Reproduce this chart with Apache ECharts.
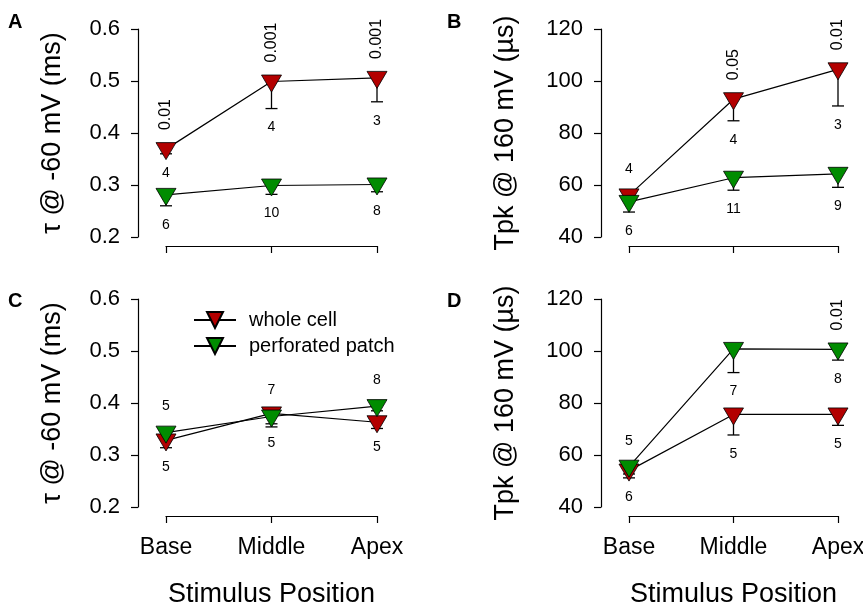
<!DOCTYPE html>
<html><head><meta charset="utf-8">
<script src="https://cdn.jsdelivr.net/npm/echarts@6/dist/echarts.min.js"></script>
<style>html,body{margin:0;padding:0;background:#fff}#c{width:863px;height:603px}</style>
</head><body><div id="c"></div>
<script>
// ---------- data ----------
const categories = ['Base', 'Middle', 'Apex'];
const seriesNames = ['whole cell', 'perforated patch'];

// Panel A: tau @ -60 mV (ms)
const aWholeMean = [0.369, 0.499, 0.506];
const aWholeLow  = [0.360, 0.447, 0.460];
const aPerfMean  = [0.281, 0.299, 0.301];
const aPerfLow   = [0.260, 0.282, 0.287];
const aWholeN    = ['4', '4', '3'];
const aPerfN     = ['6', '10', '8'];
const aPval      = ['0.01', '0.001', '0.001'];

// Panel B: Tpk @ 160 mV (µs)
const bWholeMean = [56.0, 93.0, 104.5];
const bWholeLow  = [54.0, 84.7, 90.4];
const bPerfMean  = [53.5, 62.8, 64.3];
const bPerfLow   = [49.6, 58.0, 59.1];
const bWholeN    = ['4', '4', '3'];
const bPerfN     = ['6', '11', '9'];
const bPval      = ['', '0.05', '0.01'];

// Panel C: tau @ -60 mV (ms)
const cWholeMean = [0.328, 0.380, 0.363];
const cWholeLow  = [0.314, 0.360, 0.351];
const cPerfMean  = [0.343, 0.374, 0.394];
const cPerfLow   = [0.335, 0.354, 0.385];
const cWholeN    = ['5', '5', '5'];
const cPerfN     = ['5', '7', '8'];
const cPval      = ['', '', ''];

// Panel D: Tpk @ 160 mV (µs)
const dWholeMean = [54.0, 75.6, 75.6];
const dWholeLow  = [51.2, 67.7, 71.4];
const dPerfMean  = [55.5, 100.8, 100.6];
const dPerfLow   = [52.7, 91.7, 96.5];
const dWholeN    = ['6', '5', '5'];
const dPerfN     = ['5', '7', '8'];
const dPval      = ['', '', '0.01'];

// label placement: 'b' = below error bar, 'a' = above marker
const aWholeSide = ['b', 'b', 'b'];
const aPerfSide  = ['b', 'b', 'b'];
const bWholeSide = ['a', 'b', 'b'];
const bPerfSide  = ['b', 'b', 'b'];
const cWholeSide = ['b', 'b', 'b'];
const cPerfSide  = ['a', 'a', 'a'];
const dWholeSide = ['b', 'b', 'b'];
const dPerfSide  = ['a', 'b', 'b'];

// ---------- styles ----------
const RED = '#b30000';
const GREEN = '#008c00';
const FONT = "'Liberation Sans', Arial, sans-serif";
const TRI = 'path://M0,0 L20,0 L10,17 Z';

const panels = [
  { key: 'A', grid: { left: 166, top: 29, width: 211, height: 208 }, y: [0.2, 0.6, 0.1, 1],
    title: 'τ @ -60 mV (ms)', nameGap: 72, bottom: false,
    whole: [aWholeMean, aWholeLow, aWholeN, aWholeSide], perf: [aPerfMean, aPerfLow, aPerfN, aPerfSide],
    pval: aPval, pOn: 'whole', lx: 8, ly: 12 },
  { key: 'B', grid: { left: 629, top: 29, width: 209, height: 208 }, y: [40, 120, 20, 0],
    title: 'Tpk @ 160 mV (µs)', nameGap: 82, bottom: false,
    whole: [bWholeMean, bWholeLow, bWholeN, bWholeSide], perf: [bPerfMean, bPerfLow, bPerfN, bPerfSide],
    pval: bPval, pOn: 'whole', lx: 447, ly: 12 },
  { key: 'C', grid: { left: 166, top: 299, width: 211, height: 208 }, y: [0.2, 0.6, 0.1, 1],
    title: 'τ @ -60 mV (ms)', nameGap: 72, bottom: true,
    whole: [cWholeMean, cWholeLow, cWholeN, cWholeSide], perf: [cPerfMean, cPerfLow, cPerfN, cPerfSide],
    pval: cPval, pOn: 'perf', lx: 8, ly: 291 },
  { key: 'D', grid: { left: 629, top: 299, width: 209, height: 208 }, y: [40, 120, 20, 0],
    title: 'Tpk @ 160 mV (µs)', nameGap: 82, bottom: true,
    whole: [dWholeMean, dWholeLow, dWholeN, dWholeSide], perf: [dPerfMean, dPerfLow, dPerfN, dPerfSide],
    pval: dPval, pOn: 'perf', lx: 447, ly: 291 }
];

const grids = [], xAxes = [], yAxes = [], series = [], graphics = [];

function errRender(params, api) {
  const idx = api.value(0), m = api.value(1), lo = api.value(2);
  const p1 = api.coord([idx, m]), p2 = api.coord([idx, lo]);
  return { type: 'group', children: [
    { type: 'line', shape: { x1: p1[0], y1: p1[1], x2: p2[0], y2: p2[1] }, style: { stroke: '#000', lineWidth: 1.3 } },
    { type: 'line', shape: { x1: p2[0] - 6, y1: p2[1], x2: p2[0] + 6, y2: p2[1] }, style: { stroke: '#000', lineWidth: 1.3 } }
  ]};
}

panels.forEach((p, i) => {
  grids.push(Object.assign({ containLabel: false, outerBoundsMode: 'none' }, p.grid));
  xAxes.push({
    type: 'category', gridIndex: i, data: categories, boundaryGap: false, offset: 9,
    axisLine: { show: true, lineStyle: { color: '#000', width: 1.2 } },
    axisTick: { show: true, length: 7, alignWithLabel: true, lineStyle: { color: '#000', width: 1.2 } },
    axisLabel: { show: p.bottom, margin: 20, fontSize: 23, color: '#000', fontFamily: FONT },
    splitLine: { show: false },
    name: p.bottom ? 'Stimulus Position' : '', nameLocation: 'middle', nameGap: 65,
    nameTextStyle: { fontSize: 27, color: '#000', fontFamily: FONT }
  });
  yAxes.push({
    type: 'value', gridIndex: i, min: p.y[0], max: p.y[1], interval: p.y[2], offset: 28,
    axisLine: { show: true, lineStyle: { color: '#000', width: 1.2 } },
    axisTick: { show: true, length: 7, lineStyle: { color: '#000', width: 1.2 } },
    axisLabel: { margin: 18, fontSize: 22, color: '#000', fontFamily: FONT,
      formatter: (v) => v.toFixed(p.y[3]) },
    splitLine: { show: false },
    name: p.title, nameLocation: 'middle', nameGap: p.nameGap,
    nameTextStyle: { fontSize: 27, color: '#000', fontFamily: FONT }
  });

  const groups = [['whole', RED, 0], ['perf', GREEN, 1]];
  // error bars
  groups.forEach(([k]) => {
    const [mean, low] = p[k];
    series.push({
      type: 'custom', xAxisIndex: i, yAxisIndex: i, z: 1, silent: true,
      renderItem: errRender, encode: { x: 0, y: [1, 2] },
      data: mean.map((m, j) => [j, m, low[j]])
    });
  });
  // lines with markers
  groups.forEach(([k, col, ni]) => {
    series.push({
      type: 'line', name: seriesNames[ni], xAxisIndex: i, yAxisIndex: i, z: 3,
      data: p[k][0], symbol: TRI, symbolSize: [20, 17], symbolOffset: [0, 2],
      showSymbol: true, animation: false,
      lineStyle: { color: '#000', width: 1.2 },
      itemStyle: { color: col, borderColor: '#000', borderWidth: 0.8 },
      emphasis: { disabled: true }
    });
  });
  // annotations
  const labels = [];
  groups.forEach(([k]) => {
    const [mean, low, n, side] = p[k];
    n.forEach((t, j) => {
      if (side[j] === 'a') labels.push({ j, v: mean[j], t, kind: 'a' });
      else labels.push({ j, v: low[j], t, kind: 'b' });
    });
  });
  p.pval.forEach((t, j) => {
    if (t) labels.push({ j, v: p[p.pOn][0][j], t, kind: 'p' });
  });
  series.push({
    type: 'custom', xAxisIndex: i, yAxisIndex: i, z: 4, silent: true,
    encode: { x: 0, y: 1 },
    data: labels.map(l => [l.j, l.v]),
    renderItem: (params, api) => {
      const l = labels[params.dataIndex];
      const pt = api.coord([api.value(0), api.value(1)]);
      if (l.kind === 'p') {
        return { type: 'text', x: pt[0], y: pt[1] - 19, rotation: Math.PI / 2,
          style: { text: l.t, fill: '#000', font: '16px ' + FONT, textAlign: 'left', textVerticalAlign: 'middle' } };
      }
      const y = l.kind === 'a' ? pt[1] - 26 : pt[1] + 19;
      return { type: 'text', x: pt[0], y: y,
        style: { text: l.t, fill: '#000', font: '14px ' + FONT, textAlign: 'center', textVerticalAlign: 'middle' } };
    }
  });
  graphics.push({ type: 'text', left: p.lx, top: p.ly,
    style: { text: p.key, fill: '#000', font: 'bold 20px ' + FONT } });
});

const chart = echarts.init(document.getElementById('c'), null, { renderer: 'canvas' });
chart.setOption({
  animation: false,
  backgroundColor: '#fff',
  grid: grids, xAxis: xAxes, yAxis: yAxes, series: series, graphic: graphics,
  legend: {
    data: seriesNames, orient: 'vertical', left: 193, top: 310, padding: 0,
    itemWidth: 42, itemHeight: 20, itemGap: 6, selectedMode: false,
    textStyle: { fontSize: 20, color: '#000', fontFamily: FONT, padding: [0, 0, 0, 8] }
  }
});
</script>
</body></html>
